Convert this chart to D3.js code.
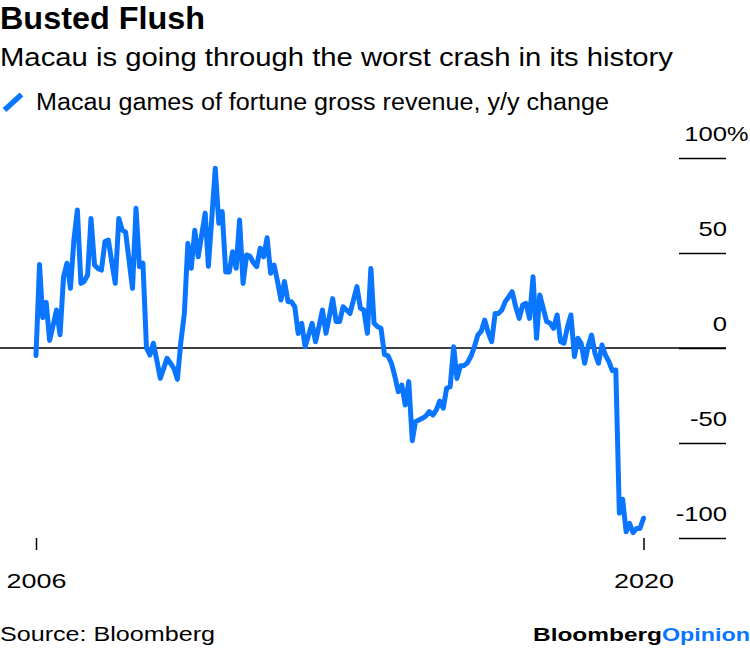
<!DOCTYPE html>
<html><head><meta charset="utf-8">
<script src="https://cdn.jsdelivr.net/npm/d3@7"></script>
<style>
body{margin:0;background:#fff}
svg{display:block}
text{font-family:"Liberation Sans",Arial,Helvetica,sans-serif;fill:#000}
</style>
</head><body>
<svg id="chart" width="750" height="652"></svg>
<script>
// ---- data ----
const title = "Busted Flush";
const subtitle = "Macau is going through the worst crash in its history";
const seriesName = "Macau games of fortune gross revenue, y/y change";
const sourceText = "Source: Bloomberg";
const brandParts = ["Bloomberg", "Opinion"];
const startYear = 2006; // monthly series from Jan 2006
const yoyChange = [
  -4, 44, 16, 24, 4, 12, 20, 7, 37.5, 44.6, 31.4, 56.8,            // 2006
  72.6, 34, 35, 38.4, 68.2, 43.7, 41.9, 41, 56, 56.8, 45, 34,       // 2007
  68.2, 62, 61, 46, 31.4, 73.5, 42.8, 44.6, 0, -3.7, 2.5, -6.3,     // 2008
  -16, -10.6, -5.4, -8, -10.7, -16.5, 3, 18, 55, 42, 62, 48,        // 2009
  59.5, 71, 43, 69, 94.6, 65.6, 71.8, 40, 40, 50.7, 42, 67.4,       // 2010
  34, 49, 48.4, 45, 42.8, 52.5, 48, 58, 39.3, 43.7, 35, 25.3,       // 2011
  35, 24.4, 24.4, 21.7, 7.7, 13, 0.7, 6.8, 13, 3.3, 11.6, 20,       // 2012
  7.7, 17, 26, 13.9, 13.9, 21.7, 20, 18.2, 25.3, 32.3, 20.9, 20,    // 2013
  7.7, 41.9, 13, 11.2, 10.4, -3.5, -4, -8, -15, -23, -19.5, -30,    // 2014
  -17.7, -48.8, -38.8, -37.9, -37, -35.8, -33.5, -35.3, -32.6, -28, -31.7, -21.2, // 2015
  -20.4, 0.7, -16, -9.3, -9.3, -7.8, -4.5, 0.5, 6.8, 8.8, 14.7, 8.2, // 2016
  3.3, 18.2, 18.2, 20, 24.4, 27, 29.6, 21.7, 15.6, 22.6, 23.5, 15.6, // 2017
  37.5, 5.1, 27.9, 20.9, 13.9, 13, 10.4, 17.4, 3.3, 2.5, 11.2, 17.4, // 2018
  -4.5, 5.1, 2.5, -8, 0.7, 6.8, -2.8, -8, 1.6, -3.7, -7.2, -11.9,   // 2019
  -11.6, -87, -79.6, -96.7, -92.3, -97.2, -95, -95, -89.6           // 2020
];
const yTickValues = [100, 50, 0, -50, -100];
const yTickLabels = ["100", "50", "0", "-50", "-100"];
const yUnit = "%";
const xTickLabels = ["2006", "2020"];

// ---- chart ----
const svg = d3.select("#chart");
const blue = "#0a76ff";

function fit(sel, w) {
  const n = sel.node().getComputedTextLength();
  if (Math.abs(n - w) > 0.5) sel.attr("textLength", w).attr("lengthAdjust", "spacingAndGlyphs");
  return sel;
}

const dates = yoyChange.map((_, i) => new Date(startYear, i, 1));
const x = d3.scaleTime().domain([dates[0], dates[dates.length - 1]]).range([36, 643.5]);
const y = d3.scaleLinear().domain([-100, 100]).range([538, 158]);

// header
fit(svg.append("text").attr("x", 0).attr("y", 29).style("font-weight", "bold").style("font-size", "30.5px").text(title), 205);
fit(svg.append("text").attr("x", 0).attr("y", 66).style("font-size", "25px").text(subtitle), 673);
svg.append("line").attr("x1", 4.5).attr("y1", 110).attr("x2", 21.5).attr("y2", 94.5)
  .attr("stroke", blue).attr("stroke-width", 5.5);
fit(svg.append("text").attr("x", 36).attr("y", 110).style("font-size", "23px").text(seriesName), 573);

// y axis (right side, labels above tick lines)
const yAxis = d3.axisLeft(y).tickValues(yTickValues).tickSize(47)
  .tickFormat((d, i) => yTickLabels[i]);
const gy = svg.append("g").attr("transform", "translate(726,0)").call(yAxis);
gy.select(".domain").remove();
gy.selectAll(".tick line").attr("stroke", "#000").attr("stroke-width", 1.5);
gy.selectAll(".tick text").attr("x", 1).attr("dy", 0).attr("y", -18)
  .attr("text-anchor", "end").style("font-size", "21px").attr("fill", "#000")
  .each(function () { const t = d3.select(this); fit(t, t.node().getComputedTextLength() * 1.22); });
gy.selectAll(".tick").filter(d => d === 100).append("text")
  .attr("x", 1).attr("y", -18).attr("text-anchor", "start").style("font-size", "21px").attr("fill", "#000")
  .text(yUnit).each(function () { const t = d3.select(this); fit(t, t.node().getComputedTextLength() * 1.15); });

// zero line across the plot
svg.append("line").attr("x1", 0).attr("x2", 726).attr("y1", y(0)).attr("y2", y(0))
  .attr("stroke", "#000").attr("stroke-width", 1.5);

// x axis
const xAxis = d3.axisBottom(x).tickValues([dates[0], dates[dates.length - 1]]).tickSize(12)
  .tickFormat((d, i) => xTickLabels[i]);
const gx = svg.append("g").attr("transform", "translate(0,538)").call(xAxis);
gx.select(".domain").remove();
gx.selectAll(".tick line").attr("stroke", "#000").attr("stroke-width", 1.5);
gx.selectAll(".tick text").attr("y", 50).attr("dy", 0).style("font-size", "21px").attr("fill", "#000")
  .each(function () { fit(d3.select(this), 60); });

// series line
const line = d3.line().x((d, i) => x(dates[i])).y(d => y(d)).curve(d3.curveLinear);
svg.append("path").datum(yoyChange).attr("d", line)
  .attr("fill", "none").attr("stroke", blue).attr("stroke-width", 5)
  .attr("stroke-linejoin", "round").attr("stroke-linecap", "round");

// footer
fit(svg.append("text").attr("x", 0).attr("y", 641).style("font-size", "20px").text(sourceText), 215);
fit(svg.append("text").attr("x", 533).attr("y", 641).style("font-weight", "bold").style("font-size", "18.5px")
  .text(brandParts[0]), 129);
fit(svg.append("text").attr("x", 662).attr("y", 641).style("font-weight", "bold").style("font-size", "18.5px")
  .style("fill", blue).text(brandParts[1]), 88);
</script>
</body></html>
